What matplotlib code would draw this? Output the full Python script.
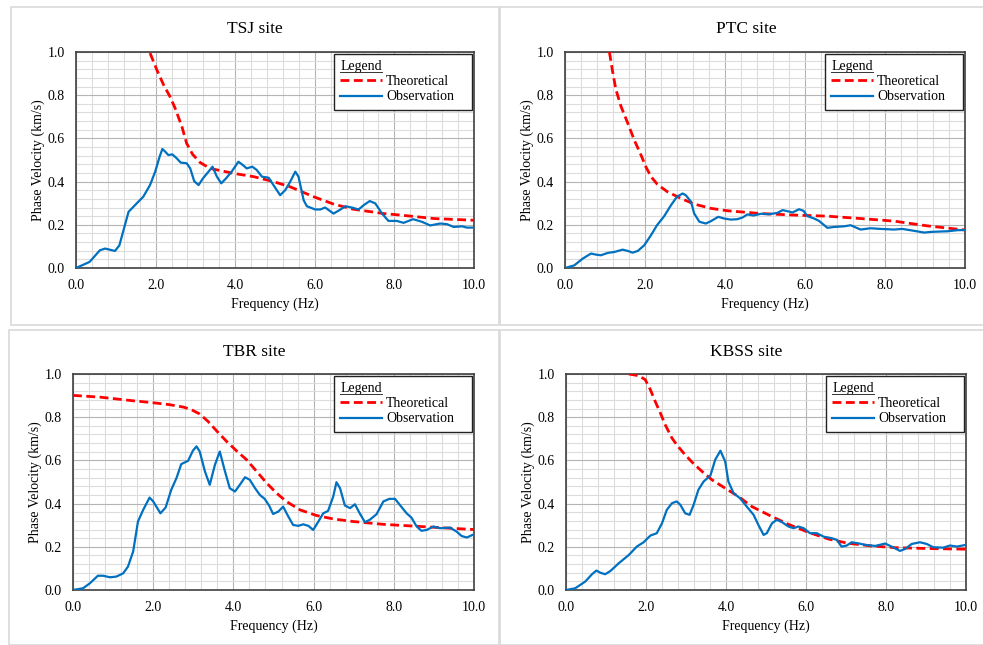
import matplotlib
matplotlib.use("Agg")
import matplotlib.pyplot as plt
from matplotlib.lines import Line2D
from matplotlib.patches import Rectangle
from matplotlib.ticker import MultipleLocator, FormatStrFormatter

plt.rcParams['font.family'] = ['Liberation Serif', 'DejaVu Serif']

# ---- data (frequency in Hz, phase velocity in km/s) ----
tsj_obs_f = [0, 0.34, 0.6, 0.73, 0.98, 1.09, 1.32, 1.53, 1.69, 1.86, 1.99, 2.1, 2.17, 2.24, 2.32, 2.42,
             2.53, 2.63, 2.78, 2.87, 2.97, 3.08, 3.19, 3.33, 3.43, 3.54, 3.65, 3.77, 3.91, 4.08, 4.19,
             4.29, 4.43, 4.54, 4.67, 4.84, 4.96, 5.13, 5.26, 5.38, 5.51, 5.59, 5.72, 5.8, 6.01, 6.14,
             6.26, 6.47, 6.62, 6.77, 6.93, 7.1, 7.23, 7.38, 7.52, 7.69, 7.85, 8.06, 8.23, 8.47, 8.69,
             8.9, 9.15, 9.32, 9.49, 9.7, 9.82, 10.0]
tsj_obs_v = [0, 0.028, 0.082, 0.09, 0.079, 0.105, 0.26, 0.30, 0.33, 0.384, 0.446, 0.515, 0.551, 0.539,
             0.523, 0.526, 0.508, 0.488, 0.485, 0.461, 0.402, 0.384, 0.415, 0.446, 0.469, 0.423, 0.392,
             0.415, 0.446, 0.492, 0.477, 0.461, 0.469, 0.454, 0.423, 0.418, 0.384, 0.337, 0.361, 0.399,
             0.446, 0.423, 0.314, 0.286, 0.271, 0.271, 0.28, 0.252, 0.268, 0.286, 0.28, 0.271, 0.291,
             0.31, 0.299, 0.252, 0.218, 0.218, 0.209, 0.226, 0.214, 0.197, 0.206, 0.203, 0.19, 0.193,
             0.187, 0.187]
tsj_th_f = [1.86, 2.03, 2.2, 2.36, 2.49, 2.66, 2.78, 2.93, 3.12, 3.37, 3.96, 4.46, 4.96, 5.38, 5.97,
            6.47, 6.97, 7.73, 8.15, 8.99, 10.0]
tsj_th_v = [0.995, 0.918, 0.848, 0.794, 0.74, 0.655, 0.577, 0.526, 0.488, 0.461, 0.438, 0.423, 0.4,
            0.376, 0.33, 0.296, 0.272, 0.252, 0.245, 0.229, 0.221]

ptc_obs_f = [0, 0.23, 0.44, 0.65, 0.77, 0.9, 1.07, 1.23, 1.44, 1.57, 1.69, 1.82, 1.98, 2.15, 2.3, 2.48,
             2.65, 2.8, 2.94, 3.02, 3.15, 3.23, 3.36, 3.52, 3.65, 3.83, 3.98, 4.15, 4.31, 4.44, 4.56,
             4.71, 4.9, 5.1, 5.31, 5.44, 5.56, 5.69, 5.85, 5.96, 6.06, 6.23, 6.35, 6.56, 6.73, 6.98,
             7.14, 7.39, 7.64, 7.89, 8.23, 8.43, 8.73, 8.98, 9.14, 9.39, 9.56, 9.81, 10.0]
ptc_obs_v = [0, 0.012, 0.043, 0.067, 0.062, 0.059, 0.07, 0.074, 0.085, 0.079, 0.071, 0.079, 0.105,
             0.152, 0.198, 0.24, 0.291, 0.33, 0.345, 0.337, 0.307, 0.252, 0.214, 0.206, 0.217, 0.237,
             0.229, 0.224, 0.226, 0.234, 0.248, 0.243, 0.251, 0.249, 0.255, 0.268, 0.263, 0.257, 0.272,
             0.265, 0.24, 0.229, 0.218, 0.186, 0.19, 0.193, 0.198, 0.178, 0.184, 0.181, 0.178, 0.181,
             0.172, 0.164, 0.167, 0.169, 0.17, 0.175, 0.176]
ptc_th_f = [1.11, 1.19, 1.27, 1.4, 1.57, 1.73, 1.9, 2.02, 2.15, 2.31, 2.56, 2.9, 3.23, 3.65, 4.06, 4.9,
            5.73, 6.56, 7.39, 8.23, 9.06, 10.0]
ptc_th_v = [1.0, 0.91, 0.828, 0.748, 0.67, 0.593, 0.523, 0.469, 0.423, 0.387, 0.353, 0.322, 0.296,
            0.276, 0.265, 0.252, 0.245, 0.24, 0.229, 0.217, 0.195, 0.176]

tbr_obs_f = [0, 0.25, 0.42, 0.62, 0.75, 0.92, 1.08, 1.25, 1.37, 1.5, 1.62, 1.75, 1.91, 2.0, 2.18, 2.31,
             2.45, 2.58, 2.7, 2.87, 2.99, 3.08, 3.16, 3.29, 3.41, 3.54, 3.66, 3.79, 3.91, 4.04, 4.16,
             4.29, 4.41, 4.53, 4.66, 4.78, 4.89, 4.99, 5.12, 5.24, 5.37, 5.49, 5.62, 5.74, 5.87, 5.99,
             6.12, 6.24, 6.36, 6.49, 6.57, 6.66, 6.78, 6.91, 7.03, 7.15, 7.28, 7.4, 7.57, 7.74, 7.89,
             8.03, 8.15, 8.32, 8.44, 8.57, 8.69, 8.82, 8.99, 9.15, 9.4, 9.57, 9.69, 9.82, 10.0]
tbr_obs_v = [0, 0.008, 0.031, 0.066, 0.066, 0.059, 0.062, 0.077, 0.108, 0.178, 0.317, 0.371, 0.428,
             0.41, 0.355, 0.382, 0.464, 0.518, 0.583, 0.598, 0.645, 0.665, 0.641, 0.549, 0.487, 0.58,
             0.641, 0.549, 0.471, 0.456, 0.487, 0.522, 0.51, 0.474, 0.44, 0.422, 0.391, 0.352, 0.363,
             0.386, 0.34, 0.301, 0.297, 0.304, 0.297, 0.278, 0.317, 0.355, 0.366, 0.433, 0.499, 0.471,
             0.391, 0.379, 0.397, 0.355, 0.314, 0.325, 0.351, 0.41, 0.422, 0.422, 0.394, 0.355, 0.335,
             0.294, 0.274, 0.278, 0.294, 0.286, 0.289, 0.27, 0.25, 0.243, 0.258]
tbr_th_f = [0, 0.67, 1.5, 2.0, 2.41, 2.75, 2.95, 3.16, 3.37, 3.58, 3.83, 4.08, 4.33, 4.58, 4.83, 5.08,
            5.32, 5.66, 6.07, 6.49, 6.99, 7.74, 8.57, 9.4, 10.0]
tbr_th_v = [0.901, 0.893, 0.876, 0.867, 0.858, 0.847, 0.835, 0.815, 0.78, 0.737, 0.688, 0.644, 0.603,
            0.549, 0.495, 0.448, 0.41, 0.371, 0.345, 0.329, 0.317, 0.304, 0.295, 0.286, 0.28]

kbss_obs_f = [0, 0.23, 0.48, 0.65, 0.76, 0.86, 0.98, 1.11, 1.32, 1.57, 1.77, 1.94, 2.11, 2.27, 2.4,
              2.52, 2.65, 2.77, 2.86, 2.98, 3.09, 3.19, 3.31, 3.44, 3.61, 3.73, 3.86, 3.98, 4.06, 4.19,
              4.35, 4.52, 4.69, 4.81, 4.94, 5.02, 5.15, 5.27, 5.4, 5.56, 5.69, 5.81, 5.94, 6.1, 6.27,
              6.44, 6.64, 6.77, 6.89, 7.02, 7.14, 7.31, 7.48, 7.73, 7.98, 8.14, 8.35, 8.48, 8.64, 8.85,
              9.02, 9.18, 9.43, 9.6, 9.77, 10.0]
kbss_obs_v = [0, 0.008, 0.039, 0.073, 0.09, 0.08, 0.073, 0.088, 0.124, 0.162, 0.201, 0.221, 0.252,
              0.263, 0.309, 0.371, 0.402, 0.41, 0.394, 0.355, 0.348, 0.394, 0.464, 0.502, 0.53, 0.603,
              0.645, 0.595, 0.502, 0.448, 0.425, 0.386, 0.348, 0.301, 0.255, 0.263, 0.309, 0.325, 0.314,
              0.294, 0.286, 0.294, 0.286, 0.263, 0.263, 0.247, 0.24, 0.232, 0.201, 0.206, 0.221, 0.216,
              0.209, 0.204, 0.215, 0.201, 0.181, 0.19, 0.213, 0.221, 0.213, 0.198, 0.196, 0.206, 0.201,
              0.209]
kbss_th_f = [1.57, 1.82, 1.98, 2.11, 2.23, 2.36, 2.48, 2.65, 2.77, 2.94, 3.15, 3.4, 3.65, 3.98, 4.31,
             4.65, 5.06, 5.56, 6.06, 6.56, 7.06, 7.64, 8.23, 9.06, 10.0]
kbss_th_v = [1.0, 0.992, 0.974, 0.927, 0.873, 0.819, 0.765, 0.703, 0.672, 0.634, 0.592, 0.549, 0.51,
             0.471, 0.433, 0.386, 0.348, 0.304, 0.267, 0.236, 0.216, 0.204, 0.196, 0.192, 0.189]

site_names = ["TSJ site", "PTC site", "TBR site", "KBSS site"]
series_labels = ["Theoretical", "Observation"]

W, H = 983, 645
fig = plt.figure(figsize=(W / 100, H / 100), dpi=100)

# panel frame (px), axes box (px), title baseline (px)
layout = [
    ((11, 7, 499, 325), (76, 52, 474, 268), (255, 33)),
    ((500, 7, 992, 325), (565, 52, 965, 268), (746, 33)),
    ((9, 330, 499, 645), (73, 374, 474, 590), (254, 356)),
    ((500, 330, 992, 645), (566, 374, 966, 590), (746, 356)),
]
data = [
    (tsj_th_f, tsj_th_v, tsj_obs_f, tsj_obs_v),
    (ptc_th_f, ptc_th_v, ptc_obs_f, ptc_obs_v),
    (tbr_th_f, tbr_th_v, tbr_obs_f, tbr_obs_v),
    (kbss_th_f, kbss_th_v, kbss_obs_f, kbss_obs_v),
]

legends = []
for name, (frame, box, tpos), (tf, tv, of, ov) in zip(site_names, layout, data):
    x0, y0, x1, y1 = frame
    fig.patches.append(Rectangle((x0 / W, 1 - y1 / H), (x1 - x0) / W, (y1 - y0) / H,
                                 transform=fig.transFigure, fill=False,
                                 edgecolor='#d9d9d9', linewidth=1.2))
    fig.text(tpos[0] / W, 1 - tpos[1] / H, name, ha='center', va='baseline', fontsize=12.5)

    l, t, r, b = box
    aw, ah = r - l, b - t
    ax = fig.add_axes([l / W, 1 - b / H, aw / W, ah / H])
    ax.plot(tf, tv, color='#ff0000', linestyle=(0, (3.2, 1.6)), linewidth=2.0,
            label=series_labels[0], zorder=3)
    ax.plot(of, ov, color='#0070c0', linewidth=1.6, label=series_labels[1], zorder=4)

    ax.set_xlim(0, 10)
    ax.set_ylim(0, 1.0)
    ax.xaxis.set_major_locator(MultipleLocator(2))
    ax.xaxis.set_minor_locator(MultipleLocator(0.4))
    ax.yaxis.set_major_locator(MultipleLocator(0.2))
    ax.yaxis.set_minor_locator(MultipleLocator(0.04))
    ax.xaxis.set_major_formatter(FormatStrFormatter('%.1f'))
    ax.yaxis.set_major_formatter(FormatStrFormatter('%.1f'))
    ax.grid(which='major', color='#b4b4b4', linewidth=0.8)
    ax.grid(which='minor', color='#dcdcdc', linewidth=0.8)
    ax.set_axisbelow(True)
    ax.tick_params(which='both', length=0, labelsize=10, pad=8)
    for sp in ax.spines.values():
        sp.set_color('#404040')
        sp.set_linewidth(1.2)
    ax.set_xlabel('Frequency (Hz)', fontsize=10, labelpad=4)
    ax.set_ylabel('Phase Velocity (km/s)', fontsize=10, labelpad=2)

    # legend box: 138 px wide, 2 px inside the top-right corner
    lw_px = 138
    leg = ax.legend(loc='upper left', mode='expand',
                    bbox_to_anchor=(1 - (lw_px + 2) / aw, 1 - 2 / ah, lw_px / aw, 0),
                    borderaxespad=0, title='Legend', alignment='left',
                    fontsize=10, title_fontsize=10, frameon=True, fancybox=False,
                    edgecolor='#222222', framealpha=1, handlelength=3.0,
                    handletextpad=0.3, labelspacing=0.15, borderpad=0.45)
    leg.get_frame().set_linewidth(1.0)
    legends.append(leg)

# underline the legend titles
fig.canvas.draw()
for leg in legends:
    bb = leg.get_title().get_window_extent()
    yline = bb.y0 + 1
    fig.lines.append(Line2D([bb.x0 / W, bb.x1 / W], [yline / H, yline / H],
                            transform=fig.transFigure, color='#333333', linewidth=0.7))

fig.savefig('out.png', dpi=100)
